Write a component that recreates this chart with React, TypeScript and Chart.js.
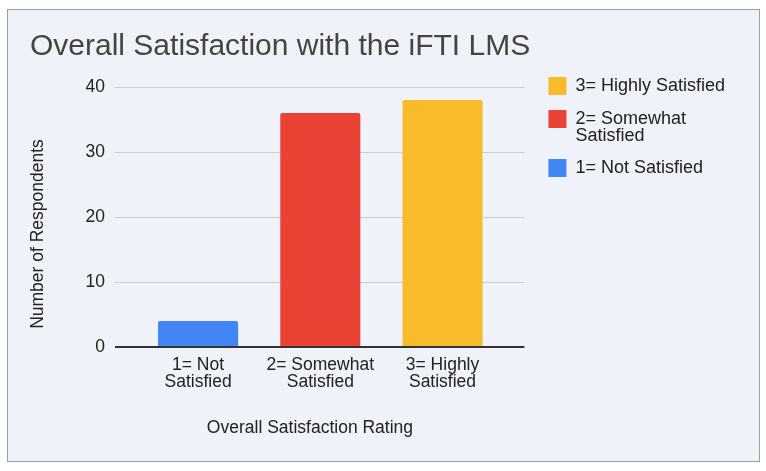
import { useEffect, useRef } from "react";
import { Chart, registerables } from "chart.js";

Chart.register(...registerables);

const ratingLabels: string[][] = [
  ["1= Not", "Satisfied"],
  ["2= Somewhat", "Satisfied"],
  ["3= Highly", "Satisfied"],
];
const legendLabels: (string | string[])[] = [
  "1= Not Satisfied",
  ["2= Somewhat", "Satisfied"],
  "3= Highly Satisfied",
];
const respondents = [4, 36, 38];
const barColors = ["#4285F4", "#EA4335", "#F9BB2B"];
const yTicks = [0, 10, 20, 30, 40];

const FONT = "'Liberation Sans', Arial, sans-serif";
const TEXT = "#222222";
// trailing no-break spaces nudge the centred axis titles the way the original sits
const NB = "\u00A0";

export default function App() {
  const canvasRef = useRef<HTMLCanvasElement>(null);

  useEffect(() => {
    if (!canvasRef.current) return;
    const chart = new Chart(canvasRef.current, {
      type: "bar",
      data: {
        datasets: [
          {
            label: "Number of Respondents",
            data: respondents.map((v, i) => ({ x: i + 1, y: v })),
            backgroundColor: barColors,
            borderRadius: 2,
            borderSkipped: "bottom",
            barPercentage: 0.655,
            categoryPercentage: 1,
          },
        ],
      },
      options: {
        animation: false,
        responsive: true,
        maintainAspectRatio: false,
        layout: { padding: { top: 10, left: 22, right: 24, bottom: 10 } },
        plugins: {
          title: {
            display: true,
            text: "Overall Satisfaction with the iFTI LMS",
            align: "start",
            color: "#444444",
            font: { family: FONT, size: 30, weight: "normal", lineHeight: "36px" },
            padding: { top: 9, bottom: 22 },
          },
          legend: {
            position: "right",
            align: "start",
            maxWidth: 260,
            onClick: () => {},
            title: {
              display: true,
              text: " ",
              font: { family: FONT, size: 17, lineHeight: "17px" },
              padding: { top: 25, bottom: 0 },
            },
            labels: {
              boxWidth: 18,
              boxHeight: 18,
              padding: 15,
              color: TEXT,
              font: { family: FONT, size: 18, lineHeight: "17px" },
              generateLabels: () =>
                legendLabels
                  .map((text, i) => ({
                    text: text as any,
                    fillStyle: barColors[i],
                    strokeStyle: barColors[i],
                    lineWidth: 0,
                    fontColor: TEXT,
                    hidden: false,
                    index: i,
                  }))
                  .reverse(),
            },
          },
          tooltip: { enabled: false },
        },
        scales: {
          x: {
            type: "linear",
            min: 0.32,
            max: 3.67,
            offset: false,
            bounds: "data",
            grid: { display: false, drawTicks: false, offset: false },
            border: { display: false },
            afterBuildTicks: (scale) => {
              scale.ticks = ratingLabels.map((_, i) => ({ value: i + 1 }));
            },
            ticks: {
              autoSkip: false,
              maxRotation: 0,
              padding: 10,
              color: TEXT,
              font: { family: FONT, size: 17.5, lineHeight: "17px" },
              callback: (value) => ratingLabels[Number(value) - 1] ?? "",
            },
            title: {
              display: true,
              text: "Overall Satisfaction Rating" + NB.repeat(4),
              color: TEXT,
              font: { family: FONT, size: 17.5, lineHeight: "17px" },
              padding: { top: 18.4, bottom: 14.6 },
            },
          },
          y: {
            min: 0,
            max: 40,
            afterBuildTicks: (scale) => {
              scale.ticks = yTicks.map((value) => ({ value }));
            },
            grid: {
              drawTicks: false,
              color: (ctx) => (ctx.tick && ctx.tick.value === 0 ? "#333333" : "#cccccc"),
              lineWidth: (ctx) => (ctx.tick && ctx.tick.value === 0 ? 2 : 1),
            },
            border: { display: false },
            ticks: {
              padding: 10,
              color: TEXT,
              font: { family: FONT, size: 17.5, lineHeight: "17px" },
            },
            title: {
              display: true,
              text: "Number of Respondents" + NB.repeat(7),
              color: TEXT,
              font: { family: FONT, size: 17.5, lineHeight: "17px" },
              padding: { top: 0, bottom: 28.5 },
            },
          },
          pad: {
            type: "linear",
            position: "right",
            display: true,
            grid: { display: false, drawTicks: false },
            border: { display: false },
            ticks: { display: false },
            afterFit: (scale) => {
              scale.width = 9;
            },
          },
        },
      },
    });
    return () => chart.destroy();
  }, []);

  return (
    <div
      style={{
        position: "absolute",
        left: 7,
        top: 9,
        width: 753,
        height: 453,
        boxSizing: "border-box",
        border: "1px solid #9e9e9e",
        background: "#eff2f8",
      }}
    >
      <div style={{ position: "relative", width: 751, height: 451 }}>
        <canvas ref={canvasRef} />
      </div>
    </div>
  );
}
